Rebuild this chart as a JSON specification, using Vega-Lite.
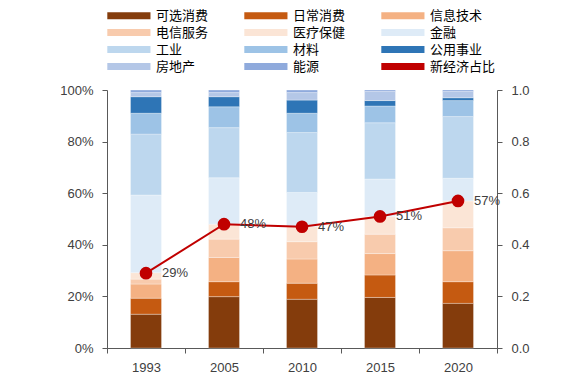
{
  "$schema": "https://vega.github.io/schema/vega-lite/v6.json",
  "width": 390,
  "height": 258,
  "autosize": {"type": "none"},
  "padding": {"left": 107, "top": 90, "right": 86, "bottom": 27},
  "config": {
    "view": {"stroke": null},
    "font": "Liberation Sans",
    "axis": {
      "grid": false,
      "domainColor": "#595959",
      "tickColor": "#595959",
      "tickSize": 5,
      "labelFont": "Liberation Sans",
      "labelFontSize": 13,
      "labelColor": "#404040",
      "title": null
    }
  },
  "layer": [
    {
      "data": {
        "values": [
          {"year": "1993", "sector": "可选消费", "value": 13.1, "ord": 1},
          {"year": "1993", "sector": "日常消费", "value": 6.2, "ord": 2},
          {"year": "1993", "sector": "信息技术", "value": 5.5, "ord": 3},
          {"year": "1993", "sector": "电信服务", "value": 1.9, "ord": 4},
          {"year": "1993", "sector": "医疗保健", "value": 2.5, "ord": 5},
          {"year": "1993", "sector": "金融", "value": 30.1, "ord": 6},
          {"year": "1993", "sector": "工业", "value": 23.6, "ord": 7},
          {"year": "1993", "sector": "材料", "value": 8.1, "ord": 8},
          {"year": "1993", "sector": "公用事业", "value": 6.4, "ord": 9},
          {"year": "1993", "sector": "房地产", "value": 1.6, "ord": 10},
          {"year": "1993", "sector": "能源", "value": 1.0, "ord": 11},
          {"year": "2005", "sector": "可选消费", "value": 19.9, "ord": 1},
          {"year": "2005", "sector": "日常消费", "value": 5.8, "ord": 2},
          {"year": "2005", "sector": "信息技术", "value": 9.4, "ord": 3},
          {"year": "2005", "sector": "电信服务", "value": 7.1, "ord": 4},
          {"year": "2005", "sector": "医疗保健", "value": 5.8, "ord": 5},
          {"year": "2005", "sector": "金融", "value": 18.0, "ord": 6},
          {"year": "2005", "sector": "工业", "value": 19.4, "ord": 7},
          {"year": "2005", "sector": "材料", "value": 8.1, "ord": 8},
          {"year": "2005", "sector": "公用事业", "value": 3.9, "ord": 9},
          {"year": "2005", "sector": "房地产", "value": 1.6, "ord": 10},
          {"year": "2005", "sector": "能源", "value": 1.0, "ord": 11},
          {"year": "2010", "sector": "可选消费", "value": 18.9, "ord": 1},
          {"year": "2010", "sector": "日常消费", "value": 6.2, "ord": 2},
          {"year": "2010", "sector": "信息技术", "value": 9.4, "ord": 3},
          {"year": "2010", "sector": "电信服务", "value": 6.7, "ord": 4},
          {"year": "2010", "sector": "医疗保健", "value": 5.8, "ord": 5},
          {"year": "2010", "sector": "金融", "value": 13.3, "ord": 6},
          {"year": "2010", "sector": "工业", "value": 23.2, "ord": 7},
          {"year": "2010", "sector": "材料", "value": 7.5, "ord": 8},
          {"year": "2010", "sector": "公用事业", "value": 5.1, "ord": 9},
          {"year": "2010", "sector": "房地产", "value": 2.9, "ord": 10},
          {"year": "2010", "sector": "能源", "value": 1.0, "ord": 11},
          {"year": "2015", "sector": "可选消费", "value": 19.6, "ord": 1},
          {"year": "2015", "sector": "日常消费", "value": 8.7, "ord": 2},
          {"year": "2015", "sector": "信息技术", "value": 8.3, "ord": 3},
          {"year": "2015", "sector": "电信服务", "value": 7.5, "ord": 4},
          {"year": "2015", "sector": "医疗保健", "value": 6.9, "ord": 5},
          {"year": "2015", "sector": "金融", "value": 14.5, "ord": 6},
          {"year": "2015", "sector": "工业", "value": 21.8, "ord": 7},
          {"year": "2015", "sector": "材料", "value": 6.5, "ord": 8},
          {"year": "2015", "sector": "公用事业", "value": 2.1, "ord": 9},
          {"year": "2015", "sector": "房地产", "value": 3.5, "ord": 10},
          {"year": "2015", "sector": "能源", "value": 0.6, "ord": 11},
          {"year": "2020", "sector": "可选消费", "value": 17.3, "ord": 1},
          {"year": "2020", "sector": "日常消费", "value": 8.4, "ord": 2},
          {"year": "2020", "sector": "信息技术", "value": 12.0, "ord": 3},
          {"year": "2020", "sector": "电信服务", "value": 8.9, "ord": 4},
          {"year": "2020", "sector": "医疗保健", "value": 10.4, "ord": 5},
          {"year": "2020", "sector": "金融", "value": 8.8, "ord": 6},
          {"year": "2020", "sector": "工业", "value": 23.9, "ord": 7},
          {"year": "2020", "sector": "材料", "value": 6.2, "ord": 8},
          {"year": "2020", "sector": "公用事业", "value": 1.1, "ord": 9},
          {"year": "2020", "sector": "房地产", "value": 2.4, "ord": 10},
          {"year": "2020", "sector": "能源", "value": 0.6, "ord": 11}
        ]
      },
      "mark": {"type": "bar", "size": 31, "stroke": "#ffffff", "strokeWidth": 0.5, "strokeOpacity": 0.6},
      "encoding": {
        "x": {
          "field": "year",
          "type": "nominal",
          "scale": {"paddingInner": 0, "paddingOuter": 0},
          "axis": {"labelAngle": 0, "tickBand": "extent", "labelPadding": 8}
        },
        "y": {
          "field": "value",
          "type": "quantitative",
          "stack": "zero",
          "scale": {"domain": [0, 100]},
          "axis": {
            "orient": "left",
            "values": [0, 20, 40, 60, 80, 100],
            "labelExpr": "datum.value + '%'",
            "labelPadding": 9
          }
        },
        "color": {
          "field": "sector",
          "type": "nominal",
          "scale": {
            "domain": ["可选消费", "日常消费", "信息技术", "电信服务", "医疗保健", "金融", "工业", "材料", "公用事业", "房地产", "能源", "新经济占比"],
            "range": ["#843C0C", "#C55A11", "#F4B183", "#F8CBAD", "#FBE5D6", "#DEEBF7", "#BDD7EE", "#9DC3E6", "#2E75B6", "#B4C7E7", "#8FAADC", "#C00000"]
          },
          "legend": {
            "orient": "none",
            "direction": "horizontal",
            "legendX": 0,
            "legendY": -82,
            "columns": 3,
            "title": null,
            "padding": 0,
            "symbolSize": 207,
            "symbolStrokeWidth": 0,
            "symbolType": "M-1,-0.49L5,-0.49L5,0.49L-1,0.49Z",
            "labelOffset": 34,
            "columnPadding": 35,
            "rowPadding": 2,
            "labelFont": "Noto Sans CJK SC",
            "labelFontSize": 13,
            "labelColor": "#000000",
            "encode": {
              "symbols": {
                "update": {
                  "shape": {"signal": "datum.value === '新经济占比' ? 'M-1,-0.2L5,-0.2L5,0.2L-1,0.2Z M2.8,0A0.8,0.8 0 1,1 1.2,0A0.8,0.8 0 1,1 2.8,0Z' : 'M-1,-0.49L5,-0.49L5,0.49L-1,0.49Z'"},
                  "strokeWidth": {"value": 0},
                  "opacity": {"value": 1}
                }
              }
            }
          }
        },
        "order": {"field": "ord", "type": "quantitative", "sort": "ascending"}
      }
    },
    {
      "data": {
        "values": [
          {"year": "1993", "share": 0.29, "label": "29%"},
          {"year": "2005", "share": 0.48, "label": "48%"},
          {"year": "2010", "share": 0.47, "label": "47%"},
          {"year": "2015", "share": 0.51, "label": "51%"},
          {"year": "2020", "share": 0.57, "label": "57%"}
        ]
      },
      "encoding": {
        "x": {"field": "year", "type": "nominal"},
        "y": {
          "field": "share",
          "type": "quantitative",
          "scale": {"domain": [0, 1]},
          "axis": {
            "orient": "right",
            "values": [0, 0.2, 0.4, 0.6, 0.8, 1.0],
            "format": ".1f",
            "labelPadding": 9
          }
        }
      },
      "layer": [
        {"mark": {"type": "line", "color": "#C00000", "strokeWidth": 2}},
        {"mark": {"type": "point", "filled": true, "color": "#C00000", "size": 160, "opacity": 1}},
        {
          "mark": {"type": "text", "align": "left", "baseline": "middle", "dx": 16, "fontSize": 13, "font": "Liberation Sans", "color": "#404040"},
          "encoding": {"text": {"field": "label"}}
        }
      ]
    }
  ],
  "resolve": {"scale": {"y": "independent", "color": "independent"}}
}
